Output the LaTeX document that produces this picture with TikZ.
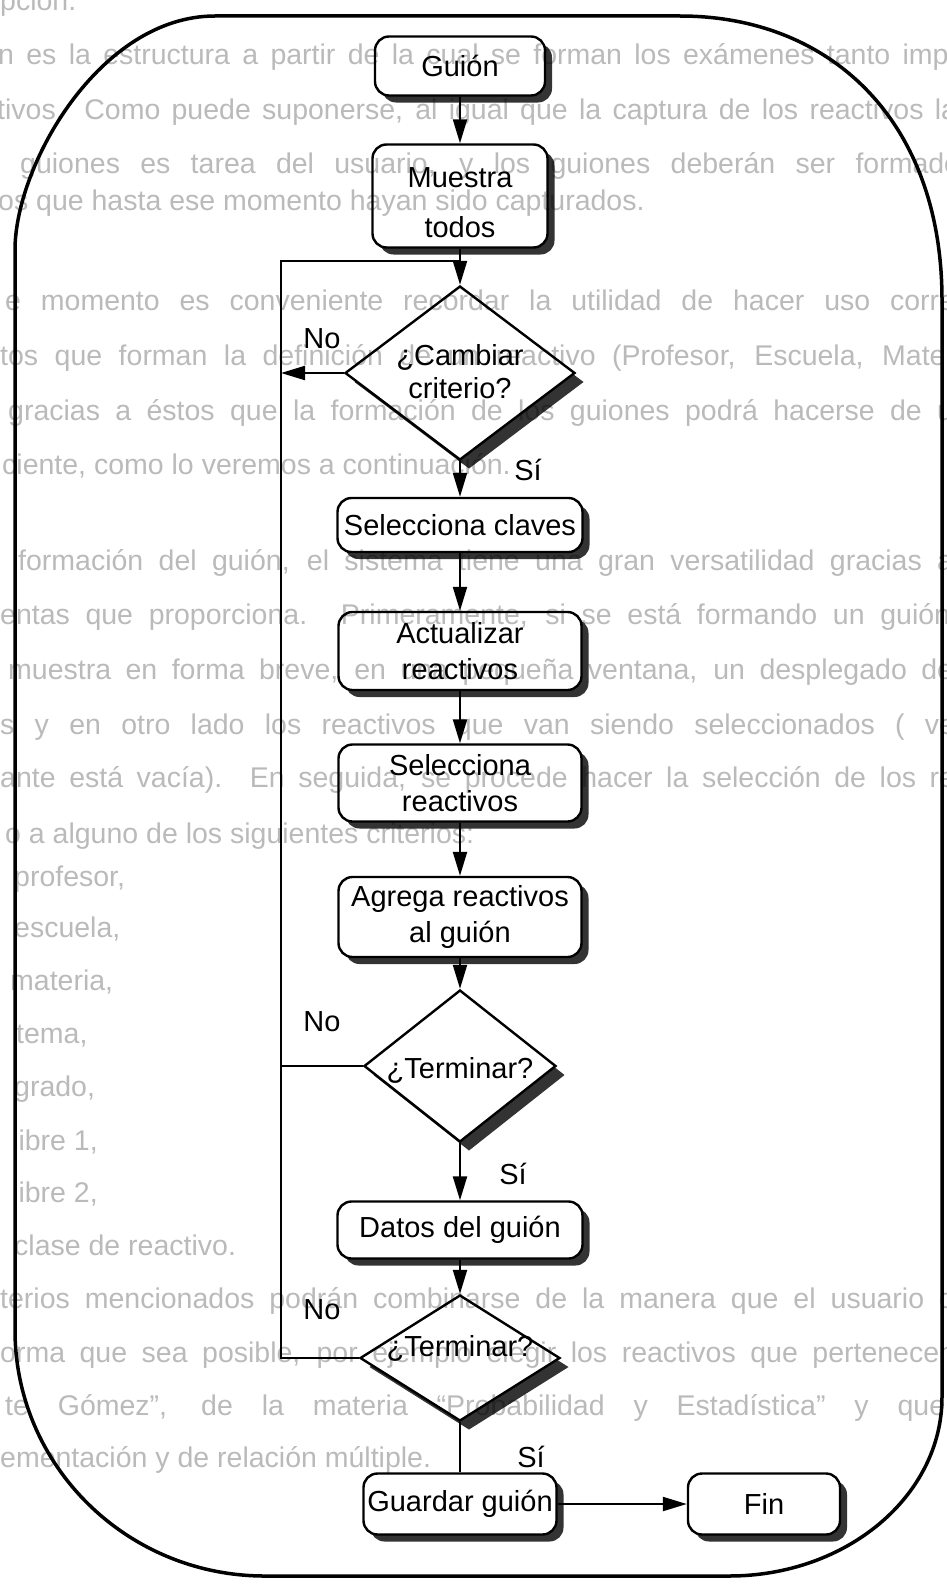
\documentclass[tikz,border=0pt]{standalone}
\usepackage{fontspec}
\setmainfont{Liberation Sans}
\usetikzlibrary{shapes.geometric,arrows.meta,shadows}
\begin{document}
\begin{tikzpicture}[x=1pt,y=-1pt,
  shad/.style={drop shadow={shadow xshift=7pt,shadow yshift=-7pt,fill=black!80,opacity=1}},
  dshad/.style={drop shadow={shadow xshift=9pt,shadow yshift=-9pt,fill=black!80,opacity=1}},
  box/.style={draw=black,line width=2.4pt,rounded corners=14pt,fill=white,align=center,inner sep=0pt,
    font=\fontsize{29}{36}\selectfont,shad},
  dia/.style={diamond,draw=black,line width=2.4pt,fill=white,inner sep=0pt,dshad},
  lbl/.style={font=\fontsize{29}{33}\selectfont,inner sep=0pt,align=center},
  conn/.style={line width=2.2pt},
  arr/.style={conn,-{Triangle[length=24pt,width=14pt]}},
  bg/.style={anchor=base west,inner sep=0pt,text=black!27,font=\fontsize{28.5}{34}\selectfont}
]
\useasboundingbox (0,0) rectangle (946,1587);
% outer frame
\draw[line width=3.5pt,line join=round]
  (15,250) .. controls (15,165) and (100,16) .. (215,16)
  -- (680,16) .. controls (830,16) and (942,120) .. (942,300)
  -- (942,1397) .. controls (942,1495.9) and (846.6,1576) .. (729,1576)
  -- (265,1576) .. controls (127,1576) and (15,1466) .. (15,1330) -- cycle;
% flowchart nodes
\node[box,minimum width=170pt,minimum height=59pt] (guion) at (460,66) {Guión};
\node[box,minimum width=175pt,minimum height=103pt] (muestra) at (460,196) {};
\node[lbl,font=\fontsize{29}{50}\selectfont] (tm) at (460,203) {Muestra\\todos};
\node[dia,minimum width=230pt,minimum height=174pt] (d1) at (460,373) {};
\node[lbl] (t1) at (460,372) {¿Cambiar\\criterio?};
\node[box,minimum width=245pt,minimum height=54pt] (clave) at (460,525) {Selecciona claves};
\node[box,minimum width=243pt,minimum height=78pt] (actual) at (460,651) {Actualizar\\reactivos};
\node[box,minimum width=243pt,minimum height=77pt] (selr) at (460,783) {Selecciona\\reactivos};
\node[box,minimum width=243pt,minimum height=80pt] (agrega) at (460,917) {Agrega reactivos\\al guión};
\node[dia,minimum width=192pt,minimum height=152pt] (d2) at (460,1066) {};
\node[lbl] (t2) at (460,1070) {¿Terminar?};
\node[box,minimum width=245pt,minimum height=57pt] (datos) at (460,1230) {Datos del guión};
\node[dia,minimum width=200pt,minimum height=126pt] (d3) at (460,1358) {};
\node[lbl] (t3) at (460,1348) {¿Terminar?};
\node[box,minimum width=193pt,minimum height=61pt] (guardar) at (460,1504) {Guardar guión};
\node[box,minimum width=152pt,minimum height=61pt] (fin) at (764,1504) {Fin};
% labels
\node[lbl] (no1) at (322,339) {No};
\node[lbl] (si1) at (528,470) {Sí};
\node[lbl] (no2) at (322,1022) {No};
\node[lbl] (si2) at (513,1174) {Sí};
\node[lbl] (no3) at (322,1310) {No};
\node[lbl] (si3) at (531,1457) {Sí};
% connectors
\coordinate (j) at (460,261);
\coordinate (lt) at (281,261);
\coordinate (lb) at (281,1358);
\draw[arr] (guion) -- (muestra);
\draw[arr] (muestra) -- (d1.north);
\draw[conn] (d3.west) -- (lb) -- (lt) -- (j);
\draw[arr] (d1.west) -- (d1.west -| lt);
\draw[arr] (d1.south) -- (clave);
\draw[arr] (clave) -- (actual);
\draw[arr] (actual) -- (selr);
\draw[arr] (selr) -- (agrega);
\draw[arr] (agrega) -- (d2.north);
\draw[conn] (d2.west) -- (d2.west -| lt);
\draw[arr] (d2.south) -- (datos);
\draw[arr] (datos) -- (d3.north);
\draw[conn] (d3.south) -- (guardar);
\draw[arr] (guardar) -- (fin);
% faint show-through text of the page
\begin{scope}[blend mode=multiply]
\clip (0,0) rectangle (946,1587);
\node[bg] (b0) at (0,11) {pción.};
\node[bg] (b1) at (-2,64) {\makebox[960pt][s]{n es la estructura a partir de la cual se forman los exámenes tanto impr}};
\node[bg] (b2) at (-3,119) {\makebox[960pt][s]{tivos. Como puede suponerse, al igual que la captura de los reactivos la}};
\node[bg] (b3) at (20,173) {\makebox[940pt][s]{guiones es tarea del usuario, y los guiones deberán ser formado}};
\node[bg] (b4) at (-2,210) {os que hasta ese momento hayan sido capturados.};
\node[bg] (b5) at (5,310) {\makebox[950pt][s]{e momento es conveniente recordar la utilidad de hacer uso corre}};
\node[bg] (b6) at (0,365) {\makebox[955pt][s]{tos que forman la definición de un reactivo (Profesor, Escuela, Mater}};
\node[bg] (b7) at (8,420) {\makebox[945pt][s]{gracias a éstos que la formación de los guiones podrá hacerse de u}};
\node[bg] (b8) at (2,474) {ciente, como lo veremos a continuación.};
\node[bg] (b9) at (18,570) {\makebox[935pt][s]{formación del guión, el sistema tiene una gran versatilidad gracias a}};
\node[bg] (b10) at (0,624) {\makebox[950pt][s]{entas que proporciona. Primeramente, si se está formando un guión}};
\node[bg] (b11) at (8,679) {\makebox[945pt][s]{muestra en forma breve, en una pequeña ventana, un desplegado de}};
\node[bg] (b12) at (0,734) {\makebox[955pt][s]{s y en otro lado los reactivos que van siendo seleccionados ( ve}};
\node[bg] (b13) at (0,787) {\makebox[955pt][s]{ante está vacía). En seguida, se procede hacer la selección de los re}};
\node[bg] (b14) at (5,843) {o a alguno de los siguientes criterios:};
\node[bg] (b15) at (14,886) {profesor,};
\node[bg] (b16) at (14,937) {escuela,};
\node[bg] (b17) at (10,990) {materia,};
\node[bg] (b18) at (16,1043) {tema,};
\node[bg] (b19) at (14,1096) {grado,};
\node[bg] (b20) at (12,1150) {libre 1,};
\node[bg] (b21) at (12,1202) {libre 2,};
\node[bg] (b22) at (14,1255) {clase de reactivo.};
\node[bg] (b23) at (0,1308) {\makebox[955pt][s]{terios mencionados podrán combinarse de la manera que el usuario d}};
\node[bg] (b24) at (0,1362) {\makebox[955pt][s]{orma que sea posible, por ejemplo elegir los reactivos que pertenecen}};
\node[bg] (b25) at (5,1415) {\makebox[940pt][s]{te Gómez”, de la materia “Probabilidad y Estadística” y que}};
\node[bg] (b26) at (0,1467) {ementación y de relación múltiple.};
\end{scope}
\end{tikzpicture}
\end{document}
